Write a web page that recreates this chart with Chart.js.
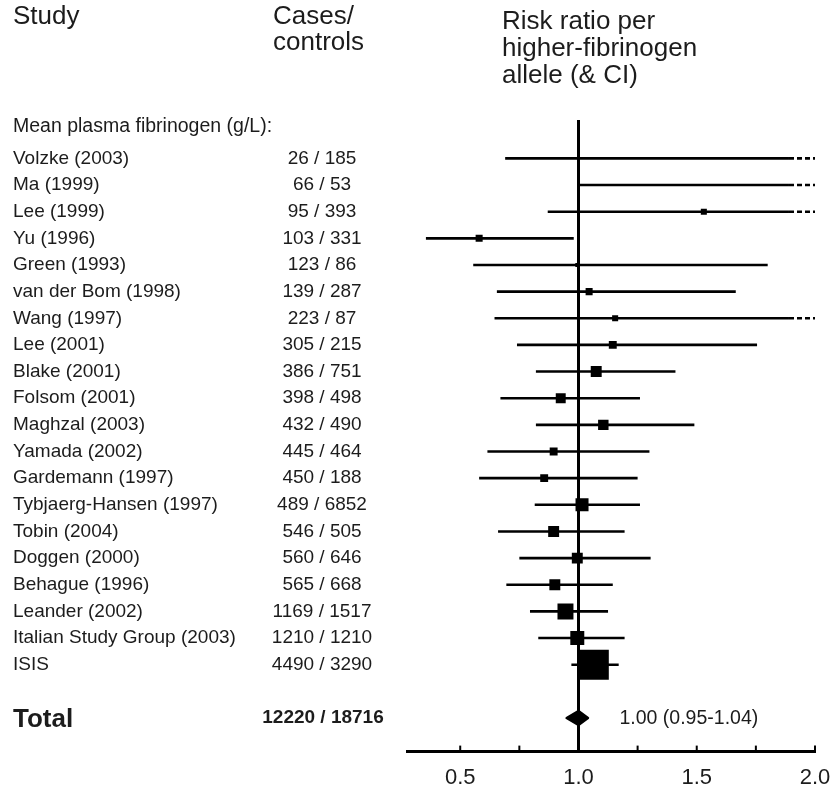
<!DOCTYPE html>
<html>
<head>
<meta charset="utf-8">
<title>Fibrinogen allele forest plot</title>
<script src="https://cdn.jsdelivr.net/npm/chart.js@4/dist/chart.umd.min.js"></script>
<style>
    html, body { margin: 0; padding: 0; background: #fff; overflow: hidden; }
    #wrap { width: 837px; height: 787px; position: relative; }
</style>
</head>
<body>
<div id="wrap"><canvas id="forestChart"></canvas></div>
<script>
// ----- data -----
const studies = [
    'Volzke (2003)', 'Ma (1999)', 'Lee (1999)', 'Yu (1996)', 'Green (1993)',
    'van der Bom (1998)', 'Wang (1997)', 'Lee (2001)', 'Blake (2001)', 'Folsom (2001)',
    'Maghzal (2003)', 'Yamada (2002)', 'Gardemann (1997)', 'Tybjaerg-Hansen (1997)', 'Tobin (2004)',
    'Doggen (2000)', 'Behague (1996)', 'Leander (2002)', 'Italian Study Group (2003)', 'ISIS'
];
const cases    = [26, 66, 95, 103, 123, 139, 223, 305, 386, 398, 432, 445, 450, 489, 546, 560, 565, 1169, 1210, 4490];
const controls = [185, 53, 393, 331, 86, 287, 87, 215, 751, 498, 490, 464, 188, 6852, 505, 646, 668, 1517, 1210, 3290];

// risk ratio per allele with lower / upper CI (values above 2.0 run off the axis)
const riskRatio = [2.4, 3.2, 1.53, 0.58, 0.995, 1.045, 1.155, 1.145, 1.075, 0.925, 1.105, 0.895, 0.855, 1.015, 0.895, 0.995, 0.90, 0.945, 0.995, 1.065];
const ciLow     = [0.69, 1.005, 0.87, 0.355, 0.555, 0.655, 0.645, 0.74, 0.82, 0.67, 0.82, 0.615, 0.58, 0.815, 0.66, 0.75, 0.695, 0.795, 0.83, 0.97];
const ciHigh    = [6.5, 9.0, 2.9, 0.98, 1.80, 1.665, 2.2, 1.755, 1.41, 1.26, 1.49, 1.30, 1.25, 1.26, 1.195, 1.305, 1.145, 1.125, 1.195, 1.17];
// study weight (%), drawn as box area
const weight    = [0.6, 0.6, 1.4, 1.9, 0.6, 1.9, 1.4, 2.4, 4.6, 3.8, 4.2, 2.4, 2.4, 6.5, 4.6, 4.6, 4.6, 9.8, 7.5, 34.4];

const totalRR = 1.00;
const totalLow = 0.95;
const totalHigh = 1.04;

const xTicks = [0.5, 1.0, 1.5, 2.0];

// ----- layout / style constants -----
const X_MIN = 0.275, X_MAX = 2.0;
const DASH_FROM = X_MAX - 0.11;      // off-scale CIs turn dashed here
const Y_MIN = -1.44, Y_MAX = 22.26;  // row units, row 0 = first study
const TOTAL_ROW = 21;
const HEADER_ROW = -1.2;
const FONT = '"Liberation Sans", Arial, Helvetica, sans-serif';
const INK = '#1c1c1c';
const BOX_SCALE = 5.1;

// ----- build datasets -----
const ciDatasets = studies.map(function(name, i) {
    const pts = [{ x: ciLow[i], y: i }];
    if (ciHigh[i] > X_MAX) {
        pts.push({ x: DASH_FROM, y: i });
    }
    pts.push({ x: ciHigh[i], y: i });
    return {
        label: name,
        data: pts,
        showLine: true,
        borderColor: '#000',
        borderWidth: 2.6,
        pointRadius: 0,
        segment: {
            borderDash: ctx => ctx.p0.parsed.x >= DASH_FROM - 1e-9 ? [5, 3] : undefined
        }
    };
});

const boxDataset = {
    label: 'estimate',
    data: riskRatio.map((v, i) => ({ x: v, y: i })),
    pointStyle: 'rect',
    pointRadius: weight.map(w => BOX_SCALE * Math.sqrt(w) / Math.SQRT2),
    backgroundColor: '#000',
    borderWidth: 0,
    showLine: false
};

const refLine = {
    label: 'no effect',
    data: [{ x: 1, y: Y_MIN }, { x: 1, y: Y_MAX }],
    showLine: true,
    borderColor: '#000',
    borderWidth: 3,
    pointRadius: 0
};

// ----- text, diamond and tick marks -----
const forestText = {
    id: 'forestText',
    afterDraw(chart) {
        const ctx = chart.ctx;
        const xs = chart.scales.x;
        const ys = chart.scales.y;
        const area = chart.chartArea;

        ctx.save();
        ctx.fillStyle = INK;
        ctx.textBaseline = 'middle';

        // column headers
        ctx.font = '26px ' + FONT;
        ctx.textAlign = 'left';
        ctx.fillText('Study', 13, 17);
        ctx.fillText('Cases/', 273, 17);
        ctx.fillText('controls', 273, 43);
        ctx.fillText('Risk ratio per', 502, 22);
        ctx.fillText('higher-fibrinogen', 502, 49);
        ctx.fillText('allele (& CI)', 502, 76);

        ctx.font = '19.5px ' + FONT;
        ctx.fillText('Mean plasma fibrinogen (g/L):', 13, ys.getPixelForValue(HEADER_ROW));

        // study rows
        ctx.font = '19px ' + FONT;
        studies.forEach(function(name, i) {
            const y = ys.getPixelForValue(i);
            ctx.textAlign = 'left';
            ctx.fillText(name, 13, y);
            ctx.textAlign = 'center';
            ctx.fillText(cases[i] + ' / ' + controls[i], 322, y);
        });

        // total row
        const ty = ys.getPixelForValue(TOTAL_ROW);
        const sumCases = cases.reduce((a, b) => a + b, 0);
        const sumControls = controls.reduce((a, b) => a + b, 0);
        ctx.font = 'bold 26px ' + FONT;
        ctx.textAlign = 'left';
        ctx.fillText('Total', 13, ty + 2);
        ctx.font = 'bold 19px ' + FONT;
        ctx.textAlign = 'center';
        ctx.fillText(sumCases + ' / ' + sumControls, 323, ty);

        ctx.font = '19.5px ' + FONT;
        ctx.textAlign = 'left';
        ctx.fillText(totalRR.toFixed(2) + ' (' + totalLow.toFixed(2) + '-' + totalHigh.toFixed(2) + ')',
            xs.getPixelForValue(totalRR) + 41, ty + 1);

        // summary diamond
        ctx.fillStyle = '#000';
        ctx.strokeStyle = '#000';
        ctx.lineWidth = 2.5;
        ctx.lineJoin = 'round';
        ctx.beginPath();
        ctx.moveTo(xs.getPixelForValue(totalLow), ty);
        ctx.lineTo(xs.getPixelForValue(totalRR), ty - 7);
        ctx.lineTo(xs.getPixelForValue(totalHigh), ty);
        ctx.lineTo(xs.getPixelForValue(totalRR), ty + 7);
        ctx.closePath();
        ctx.fill();
        ctx.stroke();

        // small tick marks above the axis line
        ctx.lineWidth = 2;
        xs.ticks.forEach(function(t) {
            const px = xs.getPixelForValue(t.value);
            ctx.beginPath();
            ctx.moveTo(px, area.bottom);
            ctx.lineTo(px, area.bottom - 6);
            ctx.stroke();
        });
        ctx.restore();
    }
};

new Chart(document.getElementById('forestChart'), {
    type: 'scatter',
    data: {
        datasets: [boxDataset].concat(ciDatasets, [refLine])
    },
    options: {
        responsive: true,
        maintainAspectRatio: false,
        animation: false,
        events: [],
        layout: {
            padding: { left: 407, right: 22, top: 120, bottom: -9 }
        },
        plugins: {
            legend: { display: false },
            tooltip: { enabled: false }
        },
        scales: {
            x: {
                type: 'linear',
                min: X_MIN,
                max: X_MAX,
                grid: { display: false },
                border: { display: true, color: '#000', width: 3 },
                ticks: {
                    stepSize: 0.25,
                    includeBounds: false,
                    autoSkip: false,
                    maxRotation: 0,
                    padding: 5,
                    color: INK,
                    font: { family: FONT, size: 22 },
                    callback: v => xTicks.some(t => Math.abs(t - v) < 1e-6) ? v.toFixed(1) : ''
                }
            },
            y: {
                type: 'linear',
                display: false,
                reverse: true,
                min: Y_MIN,
                max: Y_MAX
            }
        }
    },
    plugins: [forestText]
});
</script>
</body>
</html>
